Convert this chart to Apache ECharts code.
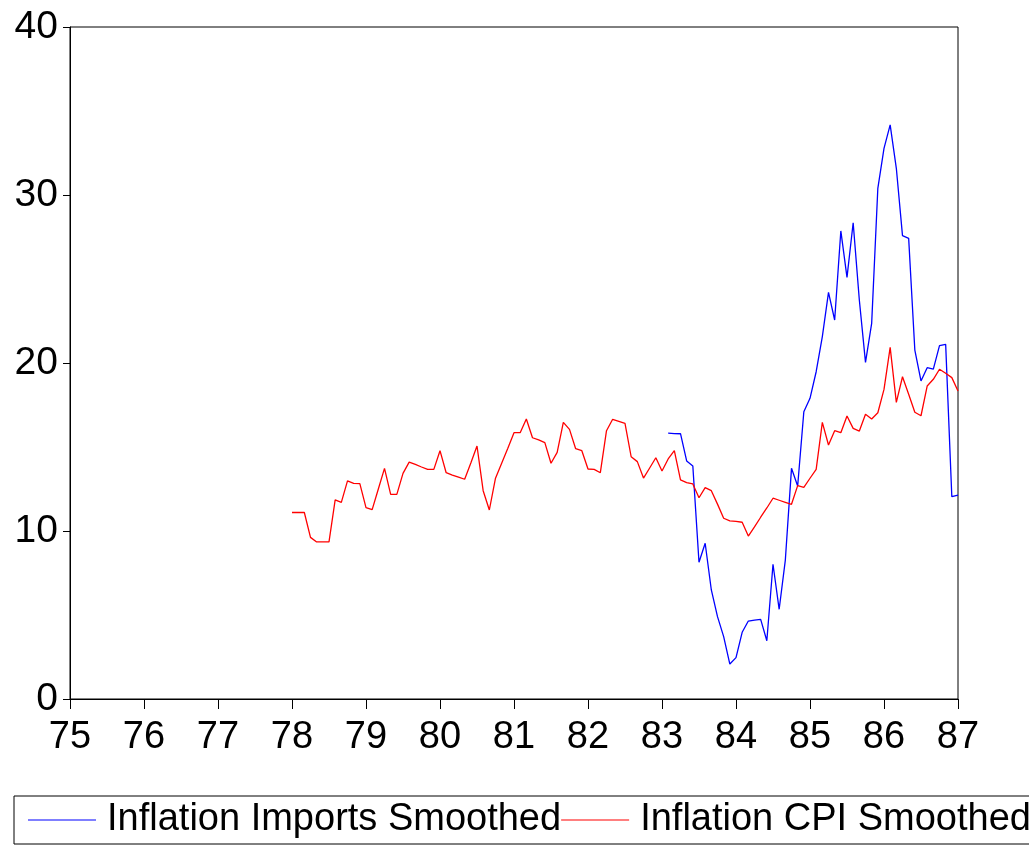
<!DOCTYPE html>
<html>
<head>
<meta charset="utf-8">
<script src="https://cdn.jsdelivr.net/npm/echarts@6/dist/echarts.min.js"></script>
<style>
  html, body { margin: 0; padding: 0; background: #fff; }
  #chart { width: 1029px; height: 848px; }
</style>
</head>
<body>
<div id="chart"></div>
<script>
// monthly data, first observation of each series
const cpiStart = 1978
const importsStart = 1983 + 1 / 12

// Inflation CPI Smoothed, 1978M01 .. 1987M01
const cpiValues = [
  11.1, 11.1, 11.1, 9.62, 9.35, 9.35, 9.35, 11.85, 11.7, 12.98, 12.84, 12.82,
  11.39, 11.27, 12.5, 13.73, 12.18, 12.18, 13.43, 14.1, 13.96, 13.81, 13.67, 13.67,
  14.78, 13.47, 13.33, 13.21, 13.08, 14.05, 15.06, 12.4, 11.25, 13.14, 14.03, 14.92,
  15.85, 15.85, 16.67, 15.55, 15.42, 15.26, 14.03, 14.68, 16.47, 16.05, 14.9, 14.78,
  13.69, 13.67, 13.47, 15.97, 16.65, 16.53, 16.41, 14.42, 14.13, 13.15, 13.75, 14.36,
  13.57, 14.29, 14.78, 13.04, 12.88, 12.8, 11.98, 12.58, 12.4, 11.6, 10.76, 10.6,
  10.57, 10.52, 9.7, 10.24, 10.82, 11.37, 11.95, 11.83, 11.71, 11.59, 12.7, 12.6,
  13.14, 13.67, 16.47, 15.12, 15.97, 15.85, 16.85, 16.11, 15.95, 16.95, 16.67, 17.04,
  18.43, 20.93, 17.66, 19.18, 18.14, 17.07, 16.86, 18.63, 19.03, 19.63, 19.39, 19.13,
  18.33
]

// Inflation Imports Smoothed, 1983M02 .. 1987M01
const importsValues = [
  15.82, 15.8, 15.79, 14.17, 13.87, 8.14, 9.27, 6.49, 4.9, 3.71, 2.08,
  2.46, 3.97, 4.64, 4.7, 4.74, 3.47, 8.02, 5.34, 8.27, 13.73, 12.68, 17.1,
  17.9, 19.48, 21.57, 24.2, 22.56, 27.86, 25.1, 28.35, 23.75, 20.04, 22.36, 30.4,
  32.78, 34.17, 31.59, 27.58, 27.42, 20.77, 18.93, 19.72, 19.64, 21.03, 21.11, 12.04,
  12.14
]

const seriesNames = ['Inflation Imports Smoothed', 'Inflation CPI Smoothed']
const seriesColors = ['#0000ff', '#ff0000']
const yTicks = [0, 10, 20, 30, 40]
const xTicks = [75, 76, 77, 78, 79, 80, 81, 82, 83, 84, 85, 86, 87]

// turn a monthly list into [year, value] pairs on the 75..87 axis
const toPairs = (start, values) =>
  values.map((v, i) => [start - 1900 + i / 12, v])

const chart = echarts.init(document.getElementById('chart'), null, { renderer: 'canvas' })

const option = {
  animation: false,
  backgroundColor: '#fff',
  color: seriesColors,
  grid: {
    left: 70,
    right: 71,
    top: 27,
    bottom: 149,
    show: true,
    borderColor: '#000',
    borderWidth: 1
  },
  xAxis: {
    type: 'value',
    min: xTicks[0],
    max: xTicks[xTicks.length - 1],
    interval: 1,
    axisLine: { show: true, lineStyle: { color: '#000', width: 1 } },
    axisTick: { show: true, length: 10, lineStyle: { color: '#000' } },
    splitLine: { show: false },
    axisLabel: {
      margin: 20,
      color: '#000',
      fontFamily: 'Liberation Sans Narrow, Liberation Sans, Arial',
      fontSize: 38,
      formatter: v => String(v)
    }
  },
  yAxis: {
    type: 'value',
    min: yTicks[0],
    max: yTicks[yTicks.length - 1],
    interval: 10,
    axisLine: { show: true, lineStyle: { color: '#000', width: 1 } },
    axisTick: { show: true, length: 7, lineStyle: { color: '#000' } },
    splitLine: { show: false },
    axisLabel: {
      margin: 12,
      color: '#000',
      fontFamily: 'Liberation Sans, Arial',
      fontSize: 39
    }
  },
  legend: {
    orient: 'horizontal',
    left: 14,
    top: 796,
    width: 1010,
    itemGap: 0,
    icon: 'rect',
    itemWidth: 68,
    itemHeight: 1,
    padding: [5, 0, 5, 14],
    borderColor: '#000',
    borderWidth: 1,
    textStyle: {
      color: '#000',
      fontFamily: 'Liberation Sans Narrow, Liberation Sans, Arial',
      fontSize: 38,
      padding: [0, 0, 0, 6]
    },
    data: seriesNames
  },
  series: [
    {
      name: seriesNames[0],
      type: 'line',
      symbol: 'none',
      itemStyle: { color: seriesColors[0] },
      lineStyle: { width: 1.3, color: seriesColors[0] },
      data: toPairs(importsStart, importsValues)
    },
    {
      name: seriesNames[1],
      type: 'line',
      symbol: 'none',
      itemStyle: { color: seriesColors[1] },
      lineStyle: { width: 1.3, color: seriesColors[1] },
      data: toPairs(cpiStart, cpiValues)
    }
  ]
}

chart.setOption(option)
</script>
</body>
</html>
